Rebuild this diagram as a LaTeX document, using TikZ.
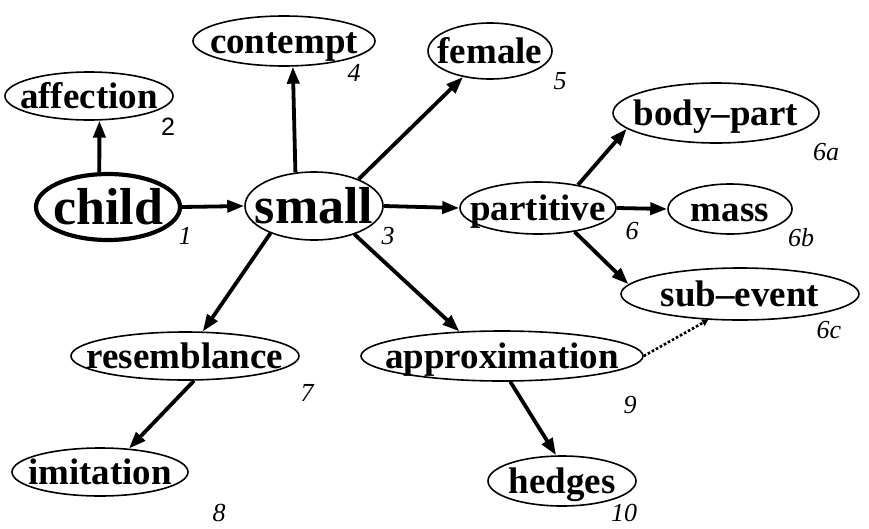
\documentclass[tikz,border=0pt]{standalone}
\usepackage{fontspec}
\setmainfont{Liberation Serif}
\newfontfamily\numsans{Liberation Sans}
\usetikzlibrary{shapes.geometric,arrows.meta}
\begin{document}
\begin{tikzpicture}[x=1pt,y=-1pt,
  ell/.style={draw, ellipse, line width=1.6pt, inner sep=0pt},
  word/.style={font=\fontsize{37}{37}\selectfont\bfseries, inner sep=0pt, anchor=base},
  big/.style={font=\fontsize{52}{52}\selectfont\bfseries, inner sep=0pt, anchor=base},
  num/.style={font=\fontsize{26}{26}\selectfont\itshape, inner sep=0pt},
  arr/.style={line width=3.8pt, -{Triangle[length=17pt,width=12pt]}},
  dotline/.style={line width=2.6pt, dotted, -{Triangle[length=6pt,width=7pt]}}]
\useasboundingbox (0,0) rectangle (869,528);
% ellipses
\node[ell, line width=4.2pt, minimum width=144pt, minimum height=66pt] (child) at (108,207) {};
\node[ell, minimum width=138pt, minimum height=68pt] (small) at (314,206) {};
\node[ell, minimum width=168pt, minimum height=48pt] (affection) at (89,96) {};
\node[ell, minimum width=182pt, minimum height=50pt] (contempt) at (284,41) {};
\node[ell, minimum width=124pt, minimum height=56pt] (female) at (490,51) {};
\node[ell, minimum width=156pt, minimum height=52pt] (partitive) at (538,208) {};
\node[ell, minimum width=206pt, minimum height=60pt] (bodypart) at (716,113) {};
\node[ell, minimum width=124pt, minimum height=50pt] (mass) at (730,209) {};
\node[ell, minimum width=238pt, minimum height=52pt] (subevent) at (740,294) {};
\node[ell, minimum width=228pt, minimum height=48pt] (resemblance) at (185,356) {};
\node[ell, minimum width=282pt, minimum height=50pt] (approximation) at (502,356) {};
\node[ell, minimum width=176pt, minimum height=48pt] (imitation) at (100,472) {};
\node[ell, minimum width=148pt, minimum height=50pt] (hedges) at (562,481) {};
% texts
\node[big] (child-t) at (108,224) {child};
\node[big] (small-t) at (314,223) {small};
\node[word] (affection-t) at (89,108) {affection};
\node[word] (contempt-t) at (284,53) {contempt};
\node[word] (female-t) at (490,63) {female};
\node[word] (partitive-t) at (538,220) {partitive};
\node[word] (bodypart-t) at (716,125) {body--part};
\node[word] (mass-t) at (730,221) {mass};
\node[word] (subevent-t) at (740,306) {sub--event};
\node[word] (resemblance-t) at (185,368) {resemblance};
\node[word] (approximation-t) at (502,368) {approximation};
\node[word] (imitation-t) at (100,484) {imitation};
\node[word] (hedges-t) at (562,493) {hedges};
% numbers
\node[num] (n1) at (185,236) {1};
\node[num, font=\fontsize{25}{25}\selectfont\numsans] (n2) at (168,127) {2};
\node[num] (n3) at (388,236) {3};
\node[num] (n4) at (354,73) {4};
\node[num] (n5) at (560,81) {5};
\node[num] (n6) at (632,231) {6};
\node[num] (n6a) at (826,152) {6a};
\node[num] (n6b) at (801,238) {6b};
\node[num] (n6c) at (829,330) {6c};
\node[num] (n7) at (307,393) {7};
\node[num] (n8) at (219,513) {8};
\node[num] (n9) at (630,405) {9};
\node[num] (n10) at (624,513) {10};
% connectors
\draw[arr] (child.104) -- (affection.293);
\draw[arr] (child.east) -- (small.west);
\draw[arr] (small.119) -- (contempt.289);
\draw[arr] (small.31) -- (female.224);
\draw[arr] (small.east) -- (partitive.west);
\draw[arr] (small.212) -- (resemblance.54);
\draw[arr] (small.325) -- (approximation.150);
\draw[arr] (partitive.30) -- (bodypart.190);
\draw[arr] (partitive.east) -- (mass.west);
\draw[arr] (partitive.327) -- (subevent.175);
\draw[arr] (resemblance.290) -- (imitation.39);
\draw[arr] (approximation.288) -- (hedges.103);
\draw[dotline] (approximation.east) -- (subevent.219);
\end{tikzpicture}
\end{document}
